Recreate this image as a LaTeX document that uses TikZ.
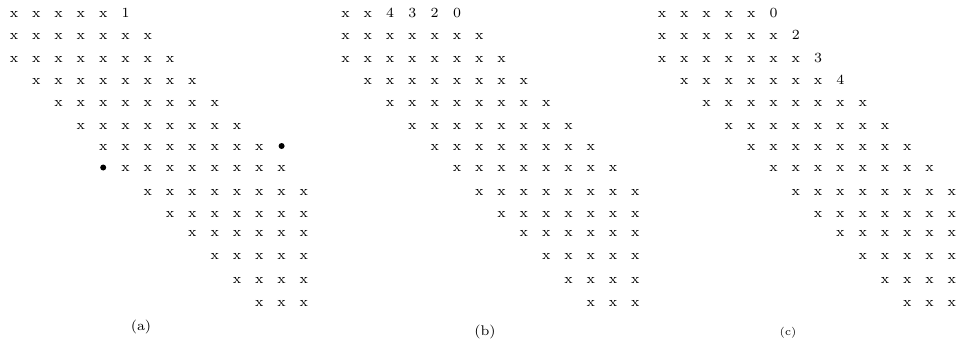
\documentclass[tikz,border=0pt]{standalone}

\begin{document}
\begin{tikzpicture}[x=0.5pt,y=-0.5pt,
  ent/.style={inner sep=0pt,text height=1ex,text depth=0pt,font=\fontsize{7}{8}\selectfont},
  fillin/.style={circle,fill,inner sep=0pt,minimum size=3pt},
  subcap/.style={font=\fontsize{7}{8}\selectfont}]
  \def\cw{22.3}
  \useasboundingbox (0,0) rectangle (969,345);
  % The band rows shared by all three matrices.
  \foreach \p/\ox in {a/14,b/345.5,c/662}
    \foreach \r/\y/\f/\l in {4/101.7/2/9,5/125/3/10,6/146/4/11,7/167.5/5/12,8/191/6/13,
                             9/213/7/13,10/232.5/8/13,11/255/9/13,12/279.5/10/13,13/302.5/11/13}
      \foreach \c in {\f,...,\l}
        \node[ent] (\p-\r-\c) at ({\ox+\cw*\c},\y) {x};
  % (a): one entry numbered, two fill-ins.
  \foreach \r/\y/\f/\l in {0/12.7/0/4,1/35/0/6,2/57.7/0/7,3/80/1/8}
    \foreach \c in {\f,...,\l}
      \node[ent] (a-\r-\c) at ({14+\cw*\c},\y) {x};
  \node[ent] (a-0-5) at ({14+\cw*5},12.7) {1};
  \node[fillin] (a-6-12) at ({14+\cw*12},146) {};
  \node[fillin] (a-7-4) at ({14+\cw*4},167.5) {};
  \node[subcap] (capa) at (141,327) {(a)};
  % (b): numbers along the first row.
  \foreach \r/\y/\f/\l in {0/12.7/0/1,1/35/0/6,2/57.7/0/7,3/80/1/8}
    \foreach \c in {\f,...,\l}
      \node[ent] (b-\r-\c) at ({345.5+\cw*\c},\y) {x};
  \foreach \c/\t in {2/4,3/3,4/2,5/0}
    \node[ent] (b-0-\c) at ({345.5+\cw*\c},12.7) {\t};
  \node[subcap] (capb) at (485,332) {(b)};
  % (c): numbers down the right edge.
  \foreach \r/\y/\f/\l in {0/12.7/0/4,1/35/0/5,2/57.7/0/6,3/80/1/7}
    \foreach \c in {\f,...,\l}
      \node[ent] (c-\r-\c) at ({662+\cw*\c},\y) {x};
  \foreach \r/\y/\c/\t in {0/12.7/5/0,1/35/6/2,2/57.7/7/3,3/80/8/4}
    \node[ent] (c-\r-\c) at ({662+\cw*\c},\y) {\t};
  \node[subcap,font=\fontsize{5.5}{6}\selectfont] (capc) at (788,333) {(c)};
\end{tikzpicture}
\end{document}
